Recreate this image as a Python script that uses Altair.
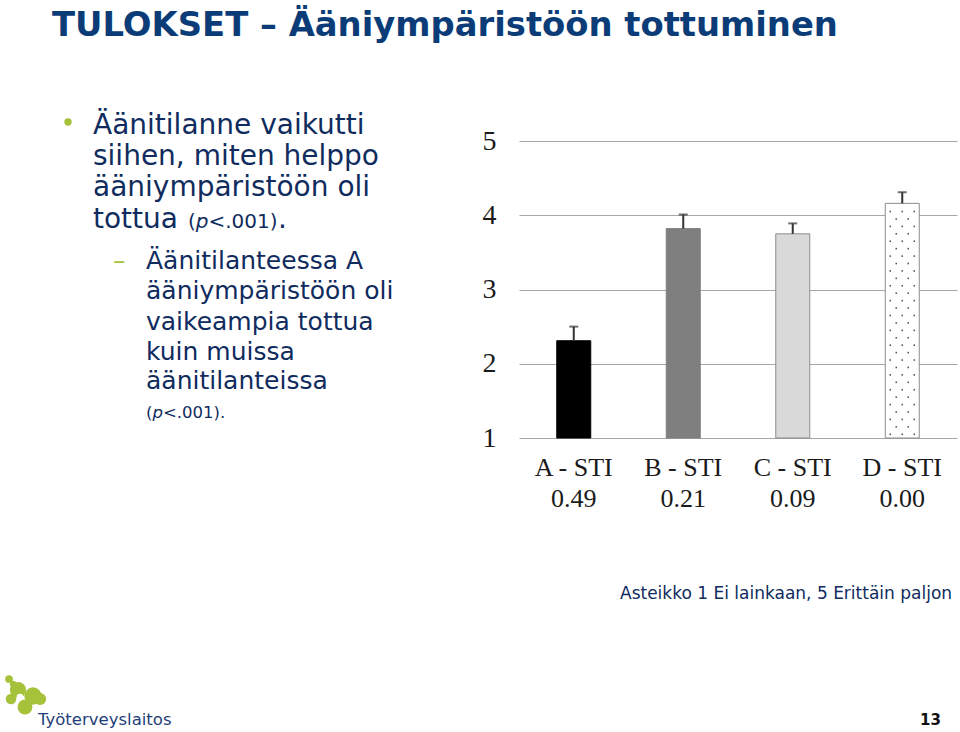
import altair as alt
import pandas as pd

# ---- data ----
categories = ["A - STI|0.49", "B - STI|0.21", "C - STI|0.09", "D - STI|0.00"]
means = [2.31, 3.82, 3.75, 4.16]
uppers = [2.50, 4.01, 3.89, 4.31]
fills = ["#000000", "#7F7F7F", "#D9D9D9", "#FFFFFF"]
strokes = ["#000000", "#7F7F7F", "#8C8C8C", "#8C8C8C"]
y_ticks = [1, 2, 3, 4, 5]

OX, OY = 519, 141          # plot origin in page pixels
W, H = 438, 297

TITLE_C = "#0B3C78"
BODY_C = "#102C5E"
GREEN = "#A6C23A"

df = pd.DataFrame({"cat": categories, "mean": means, "upper": uppers})

xenc = alt.X("cat:N", sort=categories,
             scale=alt.Scale(paddingInner=0, paddingOuter=0),
             axis=alt.Axis(title=None, domain=False, ticks=False, labelAngle=0,
                           labelExpr="split(datum.label, '|')",
                           labelFont="Liberation Serif", labelFontSize=26,
                           labelColor="#1A1A1A", labelLineHeight=31,
                           labelPadding=16))
yscale = alt.Scale(domain=[1, 5], nice=False, zero=False)

base = alt.Chart(df)

bars = base.transform_calculate(base="1").mark_bar(size=34, strokeWidth=1).encode(
    x=xenc,
    y=alt.Y("mean:Q", scale=yscale,
            axis=alt.Axis(title=None, values=y_ticks, format="d", grid=True,
                          gridColor="#A6A6A6", gridWidth=1.2, domain=False, ticks=False,
                          labelFont="Liberation Serif", labelFontSize=28,
                          labelColor="#1A1A1A", labelPadding=23)),
    y2="base:Q",
    color=alt.Color("cat:N", scale=alt.Scale(domain=categories, range=fills), legend=None),
    stroke=alt.Stroke("cat:N", scale=alt.Scale(domain=categories, range=strokes), legend=None),
)

err = base.mark_rule(color="#333333", strokeWidth=2).encode(
    x=alt.X("cat:N", sort=categories), y="mean:Q", y2="upper:Q")
caps = base.mark_tick(color="#333333", size=9, thickness=2).encode(
    x=alt.X("cat:N", sort=categories), y="upper:Q")

# dotted pattern inside bar D (decoration)
d_top = means[3]
rows_even = [round(1.05 + 0.2 * i, 2) for i in range(40) if 1.05 + 0.2 * i < d_top - 0.03]
rows_odd = [round(1.15 + 0.2 * i, 2) for i in range(40) if 1.15 + 0.2 * i < d_top - 0.03]
dot_layers = []
for rows, offs in ((rows_even, [-12, 0, 12]), (rows_odd, [-6, 6])):
    ddf = pd.DataFrame({"cat": [categories[3]] * len(rows), "v": rows})
    for o in offs:
        dot_layers.append(alt.Chart(ddf).mark_square(size=2.5, color="#444444", opacity=0.9,
                                                     xOffset=o).encode(
            x=alt.X("cat:N", sort=categories), y="v:Q"))


def txt(s, x, y, size, color=BODY_C, weight="normal", style="normal",
        font="DejaVu Sans", align="left"):
    return alt.Chart(pd.DataFrame({"t": [s]})).mark_text(
        align=align, baseline="alphabetic", font=font, fontSize=size,
        fontWeight=weight, fontStyle=style, color=color).encode(
        x=alt.value(x - OX), y=alt.value(y - OY), text="t:N")


def dot(x, y, size, color=GREEN):
    return alt.Chart(pd.DataFrame({"a": [0]})).mark_circle(color=color, opacity=1, size=size).encode(
        x=alt.value(x - OX), y=alt.value(y - OY))


texts = [
    txt("TULOKSET – Ääniympäristöön tottuminen", 52, 36, 33.8, TITLE_C, weight="bold"),
    dot(68, 122, 55),
    txt("Äänitilanne vaikutti", 93, 134, 28),
    txt("siihen, miten helppo", 93, 165, 28),
    txt("ääniympäristöön oli", 93, 196, 28),
    txt("tottua", 93, 228, 28),
    txt("(", 188, 228, 20),
    txt("p", 195.8, 228, 20, style="italic"),
    txt("<.001)", 208.5, 228, 20),
    txt(".", 278, 228, 28),
    txt("–", 113, 269, 25, GREEN),
    txt("Äänitilanteessa A", 146, 269, 25),
    txt("ääniympäristöön oli", 146, 299, 25),
    txt("vaikeampia tottua", 146, 330, 25),
    txt("kuin muissa", 146, 360, 25),
    txt("äänitilanteissa", 146, 389, 25),
    txt("(", 146, 418, 16.5),
    txt("p", 152.4, 418, 16.5, style="italic"),
    txt("<.001).", 162.9, 418, 16.5),
    txt("Asteikko 1 Ei lainkaan, 5 Erittäin paljon", 620, 599, 17),
    txt("Työterveyslaitos", 38, 725, 16.5, "#1F3F7A"),
    txt("13", 920, 725, 15, "#111111", weight="bold"),
    # logo mark
    dot(9, 679, 60),
    dot(13, 684, 40),
    dot(18, 690, 260),
    dot(33, 696, 300),
    dot(25, 707, 220),
    dot(11, 699, 110),
    dot(40, 699, 150),
    dot(20, 697, 45, "#FFFFFF"),
]

chart = alt.layer(bars, *dot_layers, err, caps, *texts).properties(
    width=W, height=H,
    autosize=alt.AutoSizeParams(type="none"),
    padding={"left": OX, "top": OY, "right": 960 - OX - W, "bottom": 732 - OY - H},
    background="white",
).configure_view(stroke=None)

chart.save("out.html", embed_options={"renderer": "svg", "actions": False})
